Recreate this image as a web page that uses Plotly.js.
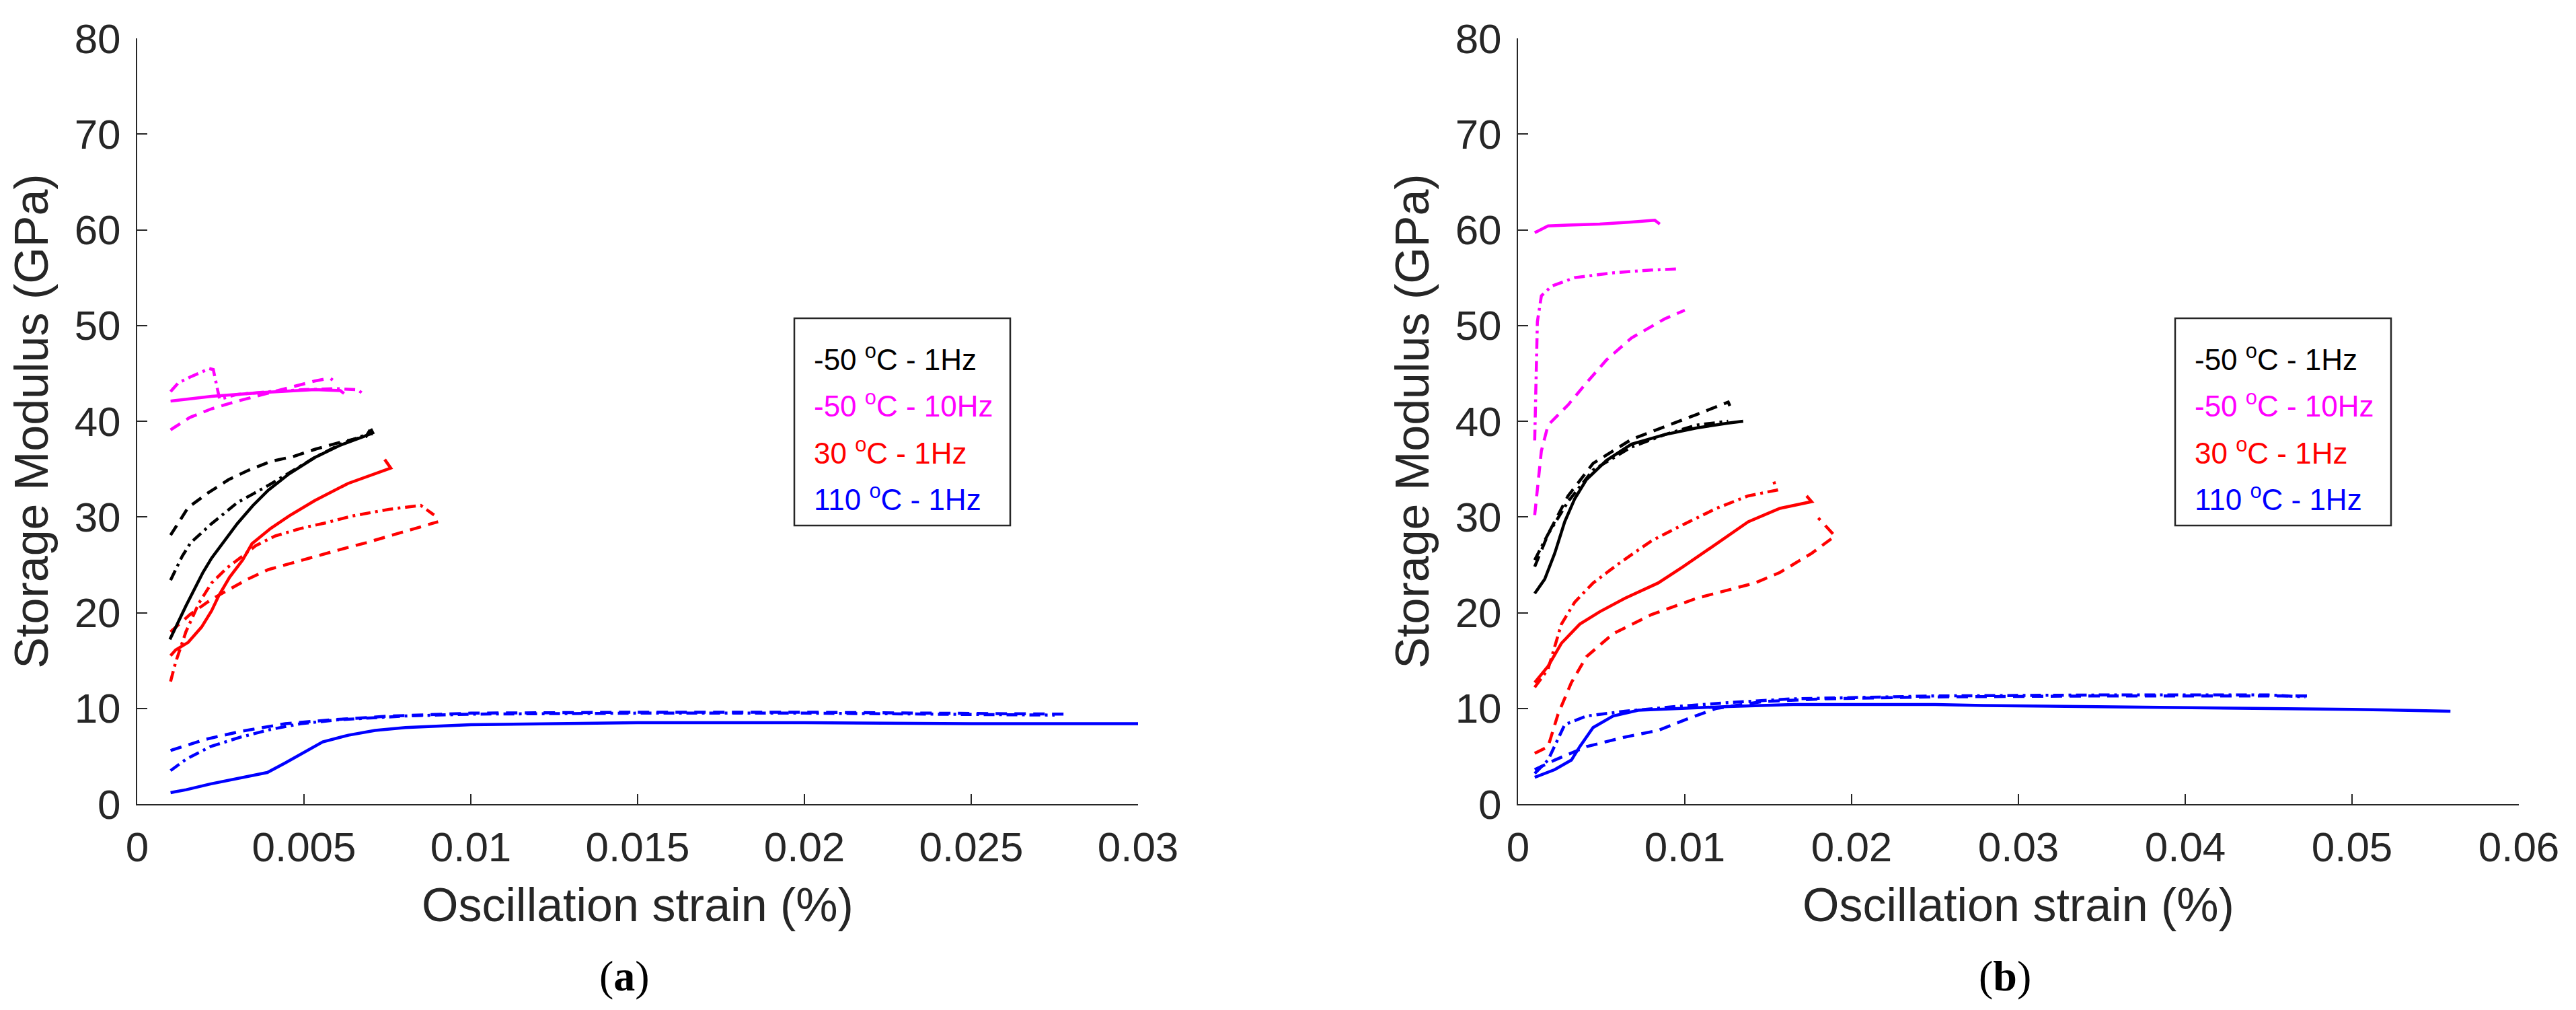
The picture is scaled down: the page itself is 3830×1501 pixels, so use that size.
<!DOCTYPE html>
<html>
<head>
<meta charset="utf-8">
<script src="https://cdn.plot.ly/plotly-3.0.1.min.js"></script>
<style>html,body{margin:0;padding:0;background:#fff;}#chart{width:3830px;height:1501px;}</style>
</head>
<body>
<div id="chart"></div>
<script>
// ---------- Panel (a) data: strain (%) vs storage modulus (GPa) ----------
const aBlackSolidX = [0.00098,0.00146,0.00197,0.00223,0.0030,0.00347,0.00393,0.00455,0.00532,0.00609,0.00686,0.00706,0.0070];
const aBlackSolidY = [17.2,20.7,24.2,25.7,29.3,31.2,32.8,34.5,36.2,37.5,38.5,38.8,39.2];
const aBlackDashX = [0.001,0.00153,0.00212,0.00274,0.00335,0.0040,0.00467,0.00536,0.00609,0.00686,0.00698];
const aBlackDashY = [28.1,31.0,32.5,33.9,34.9,35.8,36.3,37.1,37.8,38.4,39.1];
const aBlackDotX = [0.001,0.00135,0.0016,0.00197,0.00223,0.00262,0.0030,0.00347,0.00393,0.0047,0.00532,0.00609,0.00686,0.00706];
const aBlackDotY = [23.4,25.9,27.3,28.5,29.3,30.4,31.5,32.4,33.3,34.9,36.2,37.6,38.6,38.7];

const aMagSolidX = [0.001,0.00223,0.00378,0.00532,0.00609,0.0062];
const aMagSolidY = [42.1,42.6,43.0,43.3,43.2,42.9];
const aMagDashX = [0.001,0.00158,0.00223,0.0030,0.00378,0.00455,0.00532,0.00578,0.00586];
const aMagDashY = [39.1,40.4,41.3,42.1,42.8,43.5,44.2,44.5,44.3];
const aMagDotX = [0.001,0.00123,0.00158,0.00216,0.00228,0.00247,0.0030,0.0040,0.0050,0.0060,0.0066,0.0068];
const aMagDotY = [43.1,44.0,44.6,45.5,45.4,42.3,42.8,43.1,43.3,43.4,43.3,42.8];

const aRedSolidX = [0.001,0.00115,0.00153,0.00193,0.00223,0.00245,0.00277,0.00316,0.00344,0.0040,0.00455,0.00532,0.00632,0.00725,0.0076,0.00742];
const aRedSolidY = [15.5,16.1,16.9,18.5,20.2,21.8,23.7,25.5,27.2,28.8,30.1,31.7,33.5,34.7,35.1,36.0];
const aRedDashX = [0.001,0.00158,0.00223,0.0027,0.00331,0.00393,0.00494,0.00609,0.00686,0.00755,0.00841,0.00902];
const aRedDashY = [18.0,19.8,21.4,22.3,23.5,24.5,25.5,26.6,27.3,28.0,28.8,29.5];
const aRedDotX = [0.001,0.00115,0.00146,0.00185,0.00223,0.0027,0.00323,0.00355,0.00413,0.0049,0.00567,0.00644,0.00755,0.0083,0.0085,0.0089];
const aRedDotY = [12.8,14.8,18.0,21.0,23.1,24.7,26.1,27.0,28.0,28.8,29.4,30.1,30.8,31.1,31.2,30.2];

const aBlueSolidX = [0.001,0.00147,0.00219,0.00291,0.0039,0.00444,0.00498,0.00556,0.00633,0.00713,0.00804,0.010,0.015,0.020,0.025,0.030];
const aBlueSolidY = [1.2,1.5,2.1,2.6,3.3,4.3,5.4,6.5,7.2,7.7,8.0,8.3,8.5,8.5,8.4,8.4];
const aBlueDashX = [0.001,0.00203,0.0031,0.00444,0.0058,0.0076,0.010,0.015,0.020,0.025,0.0278];
const aBlueDashY = [5.6,6.75,7.6,8.4,8.8,9.2,9.5,9.6,9.6,9.5,9.4];
const aBlueDotX = [0.001,0.00147,0.00219,0.0031,0.0040,0.0049,0.0060,0.0080,0.010,0.015,0.020,0.025,0.0275];
const aBlueDotY = [3.5,4.7,6.0,7.0,7.8,8.4,8.8,9.2,9.4,9.5,9.5,9.4,9.3];

// ---------- Panel (b) data ----------
const bMagSolidX = [0.001,0.0018,0.003,0.0049,0.0068,0.0082,0.0085];
const bMagSolidY = [59.7,60.4,60.5,60.6,60.8,61.0,60.6];
const bMagDotX = [0.001,0.00116,0.0014,0.002,0.0034,0.0057,0.008,0.0095];
const bMagDotY = [38.0,50.4,53.1,54.1,55.0,55.5,55.8,55.9];
const bMagDashX = [0.001,0.0014,0.0018,0.003,0.0041,0.0053,0.0068,0.0088,0.010];
const bMagDashY = [30.2,36.9,39.6,41.7,44.0,46.4,48.7,50.7,51.6];

const bBlackSolidX = [0.001,0.0016,0.0022,0.0028,0.0034,0.0041,0.0053,0.0068,0.0088,0.0107,0.0126,0.0135];
const bBlackSolidY = [22.0,23.5,26.2,29.5,31.9,33.9,35.9,37.6,38.6,39.3,39.8,40.0];
const bBlackDashX = [0.001,0.0018,0.003,0.0045,0.0068,0.0088,0.0107,0.0126,0.0127];
const bBlackDashY = [24.8,28.2,32.2,35.6,38.1,39.4,40.7,42.0,41.6];
const bBlackDotX = [0.001,0.0018,0.003,0.0045,0.0068,0.0088,0.0107,0.0126];
const bBlackDotY = [25.5,28.2,31.6,34.9,37.3,38.6,39.6,40.0];

const bRedDotX = [0.001,0.0018,0.0026,0.0034,0.0045,0.0061,0.008,0.0099,0.0119,0.0138,0.0155,0.0153];
const bRedDotY = [12.2,14.1,18.8,21.1,23.1,25.2,27.5,29.2,30.9,32.2,32.8,33.9];
const bRedSolidX = [0.001,0.0018,0.0026,0.0037,0.0049,0.0064,0.0084,0.0099,0.0119,0.0138,0.0157,0.0176,0.0173];
const bRedSolidY = [12.7,14.4,16.8,18.8,20.1,21.5,23.1,24.8,27.2,29.5,30.9,31.6,32.2];
const bRedDashX = [0.001,0.0018,0.0024,0.0032,0.0041,0.0057,0.008,0.0107,0.0142,0.0157,0.0176,0.0190,0.0180];
const bRedDashY = [5.3,6.0,9.4,12.7,15.4,17.8,19.8,21.5,23.1,24.2,26.2,28.0,29.9];

const bBlueSolidX = [0.001,0.0022,0.0032,0.0037,0.0045,0.0057,0.0072,0.0095,0.0126,0.0165,0.025,0.0279,0.040,0.050,0.0559];
const bBlueSolidY = [2.8,3.6,4.6,6.0,8.0,9.2,9.8,10.0,10.2,10.4,10.4,10.3,10.1,9.9,9.7];
const bBlueDashX = [0.001,0.0022,0.0041,0.0064,0.0084,0.0103,0.0119,0.0146,0.0184,0.025,0.035,0.045,0.0476];
const bBlueDashY = [3.6,4.6,6.0,7.0,7.7,9.0,10.0,10.7,11.0,11.2,11.3,11.3,11.3];
const bBlueDotX = [0.001,0.0018,0.0028,0.0041,0.0064,0.0095,0.0126,0.0165,0.025,0.035,0.045,0.0472];
const bBlueDotY = [3.2,4.6,8.3,9.2,9.7,10.2,10.6,11.0,11.3,11.4,11.4,11.2];

// ---------- Labels ----------
const legendLabels = ['-50 <sup>o</sup>C - 1Hz','-50 <sup>o</sup>C - 10Hz','30 <sup>o</sup>C - 1Hz','110 <sup>o</sup>C - 1Hz'];
const legendColors = ['#000000','#FF00FF','#FF0000','#0000FF'];
const panelLabels = ['(<b>a</b>)','(<b>b</b>)'];
const xTitle = 'Oscillation strain (%)';
const yTitle = 'Storage Modulus (GPa)';

// ---------- Styles ----------
const W = 3830, H = 1501;
const DASH = '17px,11px';
const DASHDOT = '16px,7px,4px,7px';
const LW = 4.5;

function tr(x, y, color, dash, xa, ya) {
  return {x: x, y: y, type: 'scatter', mode: 'lines', xaxis: xa, yaxis: ya,
          line: {color: color, width: LW, dash: dash}, hoverinfo: 'skip', showlegend: false};
}

const traces = [
  tr(aBlueSolidX, aBlueSolidY, '#0000FF', 'solid', 'x', 'y'),
  tr(aBlueDashX, aBlueDashY, '#0000FF', DASH, 'x', 'y'),
  tr(aBlueDotX, aBlueDotY, '#0000FF', DASHDOT, 'x', 'y'),
  tr(aRedSolidX, aRedSolidY, '#FF0000', 'solid', 'x', 'y'),
  tr(aRedDashX, aRedDashY, '#FF0000', DASH, 'x', 'y'),
  tr(aRedDotX, aRedDotY, '#FF0000', DASHDOT, 'x', 'y'),
  tr(aBlackSolidX, aBlackSolidY, '#000000', 'solid', 'x', 'y'),
  tr(aBlackDashX, aBlackDashY, '#000000', DASH, 'x', 'y'),
  tr(aBlackDotX, aBlackDotY, '#000000', DASHDOT, 'x', 'y'),
  tr(aMagSolidX, aMagSolidY, '#FF00FF', 'solid', 'x', 'y'),
  tr(aMagDashX, aMagDashY, '#FF00FF', DASH, 'x', 'y'),
  tr(aMagDotX, aMagDotY, '#FF00FF', DASHDOT, 'x', 'y'),

  tr(bBlueSolidX, bBlueSolidY, '#0000FF', 'solid', 'x2', 'y2'),
  tr(bBlueDashX, bBlueDashY, '#0000FF', DASH, 'x2', 'y2'),
  tr(bBlueDotX, bBlueDotY, '#0000FF', DASHDOT, 'x2', 'y2'),
  tr(bRedSolidX, bRedSolidY, '#FF0000', 'solid', 'x2', 'y2'),
  tr(bRedDashX, bRedDashY, '#FF0000', DASH, 'x2', 'y2'),
  tr(bRedDotX, bRedDotY, '#FF0000', DASHDOT, 'x2', 'y2'),
  tr(bBlackSolidX, bBlackSolidY, '#000000', 'solid', 'x2', 'y2'),
  tr(bBlackDashX, bBlackDashY, '#000000', DASH, 'x2', 'y2'),
  tr(bBlackDotX, bBlackDotY, '#000000', DASHDOT, 'x2', 'y2'),
  tr(bMagSolidX, bMagSolidY, '#FF00FF', 'solid', 'x2', 'y2'),
  tr(bMagDashX, bMagDashY, '#FF00FF', DASH, 'x2', 'y2'),
  tr(bMagDotX, bMagDotY, '#FF00FF', DASHDOT, 'x2', 'y2')
];

const AX = '#262626';
const FONT = 'Liberation Sans, Arial, Helvetica, sans-serif';
function xax(domain, range, dtick, anchor) {
  return {domain: domain, range: range, dtick: dtick, tick0: 0, anchor: anchor,
    ticks: 'inside', ticklen: 15, tickwidth: 2, tickcolor: AX,
    showline: true, linecolor: AX, linewidth: 2, mirror: false,
    showgrid: false, zeroline: false, automargin: false, fixedrange: true,
    tickfont: {size: 62, color: AX, family: FONT}, ticklabelstandoff: 9,
    title: {text: xTitle, font: {size: 70, color: AX, family: FONT}, standoff: 28}};
}
function yax(domain, anchor) {
  return {domain: domain, range: [0, 80], dtick: 10, tick0: 0, anchor: anchor,
    ticks: 'inside', ticklen: 15, tickwidth: 2, tickcolor: AX,
    showline: true, linecolor: AX, linewidth: 2, mirror: false,
    showgrid: false, zeroline: false, automargin: false, fixedrange: true,
    tickfont: {size: 62, color: AX, family: FONT}, ticklabelstandoff: 10,
    title: {text: yTitle, font: {size: 70, color: AX, family: FONT}, standoff: 16}};
}

const yDom = [1 - 1195 / H, 1 - 57 / H];
const panelsLeft = [204, 2257];
const plotW = 1488;

const annotations = [];
const shapes = [];
panelsLeft.forEach(function (left, p) {
  const boxL = left + 977, boxR = boxL + 321, boxT = 473, boxB = 781;
  shapes.push({type: 'rect', xref: 'paper', yref: 'paper',
    x0: boxL / W, x1: boxR / W, y0: 1 - boxB / H, y1: 1 - boxT / H,
    line: {color: '#262626', width: 2.5}, fillcolor: 'rgba(255,255,255,1)', layer: 'below'});
  const rows = [531, 600, 670, 739];
  legendLabels.forEach(function (lab, i) {
    annotations.push({xref: 'paper', yref: 'paper', x: (boxL + 27) / W, y: 1 - rows[i] / H,
      xanchor: 'left', yanchor: 'middle', showarrow: false, text: lab,
      font: {size: 44, color: legendColors[i], family: FONT}});
  });
  annotations.push({xref: 'paper', yref: 'paper', x: (left + 724) / W, y: 1 - 1450 / H,
    xanchor: 'center', yanchor: 'middle', showarrow: false, text: panelLabels[p],
    font: {size: 64, color: '#000000', family: 'Liberation Serif, Times New Roman, serif'}});
});

const layout = {
  width: W, height: H, margin: {l: 0, r: 0, t: 0, b: 0, pad: 0},
  paper_bgcolor: '#ffffff', plot_bgcolor: 'rgba(0,0,0,0)', showlegend: false,
  font: {family: FONT, color: AX},
  xaxis: xax([204 / W, (204 + plotW) / W], [0, 0.03], 0.005, 'y'),
  yaxis: yax(yDom, 'x'),
  xaxis2: xax([2257 / W, (2257 + plotW) / W], [0, 0.06], 0.01, 'y2'),
  yaxis2: yax(yDom, 'x2'),
  shapes: shapes,
  annotations: annotations
};

Plotly.newPlot('chart', traces, layout, {staticPlot: true, displayModeBar: false});
</script>
</body>
</html>
